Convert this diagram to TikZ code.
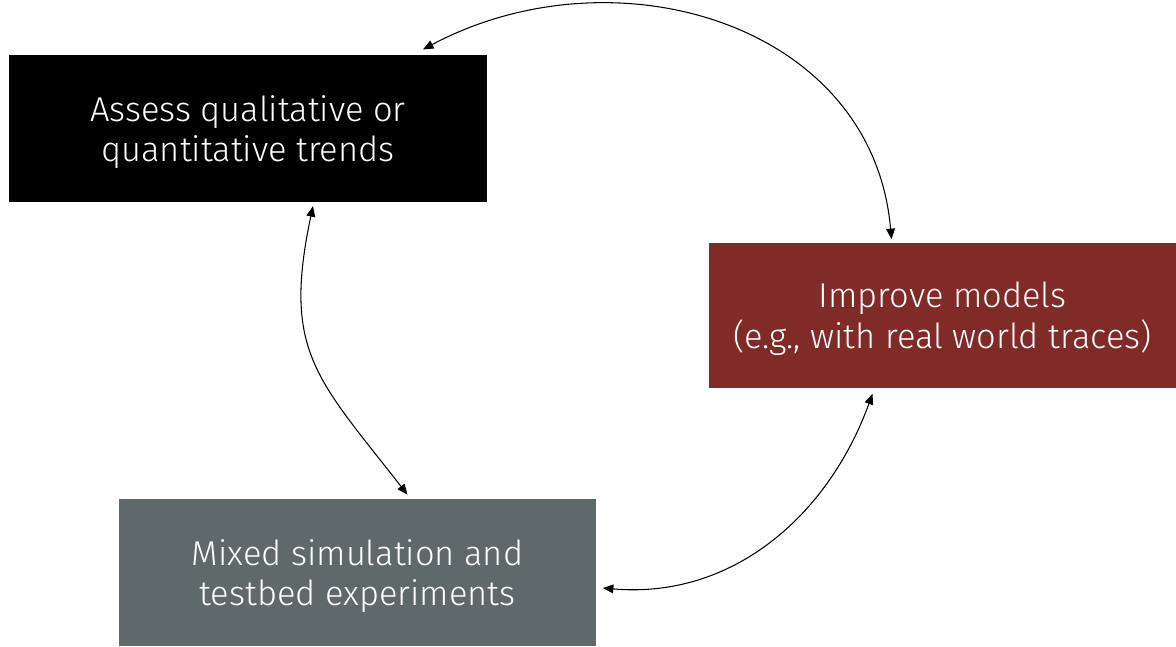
\documentclass[tikz,border=0pt]{standalone}
\usepackage{fontspec}
\setmainfont{Fira Sans}[UprightFont={* Light}]
\usetikzlibrary{arrows.meta}

\definecolor{improvered}{RGB}{128,43,40}
\definecolor{mixedgray}{RGB}{96,105,105}

\begin{document}
\begin{tikzpicture}[
    x=0.02cm, y=-0.02cm,
    stage/.style={rectangle, text=white, align=center, inner sep=0pt, text depth=0pt,
      font=\fontsize{19.6}{23.2}\selectfont},
    arrow/.style={{Triangle[length=6pt,width=5pt]}-{Triangle[length=6pt,width=5pt]}, line width=0.6pt}
]
\useasboundingbox (0,0) rectangle (1176,646);

\node[stage, fill=black, minimum width=9.58cm, minimum height=2.95cm] (assess) at (248,128.5) {Assess qualitative or\\quantitative trends};
\node[stage, fill=improvered, minimum width=9.34cm, minimum height=2.92cm] (improve) at (942.5,315.5) {Improve models\\(e.g., with real world traces)};
\node[stage, fill=mixedgray, minimum width=9.56cm, minimum height=2.94cm] (mixed) at (357.5,572.5) {Mixed simulation and\\testbed experiments};

% Arrows
\draw[arrow] ([shift={(175,-5)}]assess.north) to[out=28, in=95, looseness=1.1] ([shift={(-51,-3)}]improve.north);
\draw[arrow] ([shift={(65,3.5)}]assess.south) to[out=258, in=128, looseness=1.25] ([shift={(50,-4)}]mixed.north);
\draw[arrow] ([shift={(-70,5)}]improve.south) to[out=250, in=-5] ([shift={(6,15.5)}]mixed.east);

\end{tikzpicture}
\end{document}
